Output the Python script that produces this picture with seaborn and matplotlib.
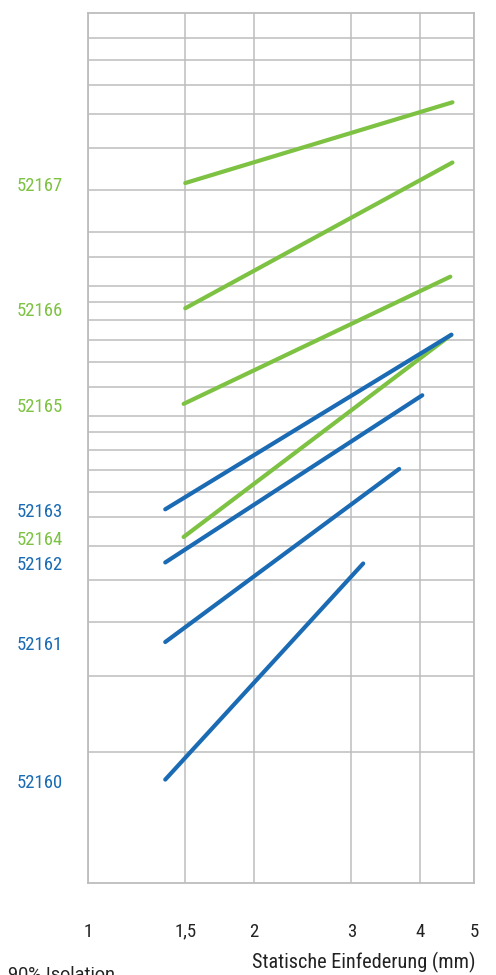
import matplotlib
matplotlib.use("Agg")
import matplotlib.pyplot as plt
import matplotlib.transforms as mtransforms
import matplotlib.ticker as mticker
import seaborn as sns
import pandas as pd

# Product series: static deflection (mm) at start/end and load at start/end
products = ["52167", "52166", "52165", "52164", "52163", "52162", "52161", "52160"]
x_start = [1.50, 1.50, 1.49, 1.49, 1.38, 1.38, 1.38, 1.38]
x_end = [4.57, 4.57, 4.53, 4.55, 4.55, 4.03, 3.66, 3.15]
load_start = [41.5, 21.3, 12.8, 6.3, 7.3, 5.5, 3.6, 1.73]
load_end = [63.8, 46.3, 25.2, 18.5, 18.5, 13.4, 9.05, 5.47]
series_colour = ["green", "green", "green", "green", "blue", "blue", "blue", "blue"]

# Axis ticks and grid
x_ticks = [1, 1.5, 2, 3, 4, 5]
x_tick_labels = ["1", "1,5", "2", "3", "4", "5"]
load_grid = [2, 3, 4, 5, 6, 7, 8, 9, 10, 11, 12, 14, 16, 18, 20, 22, 24, 28, 32,
             40, 50, 60, 70, 80, 90]

GREEN = "#7DC242"
BLUE = "#1A6BB4"
GRID = "#BDBDBD"
TEXT = "#222222"
palette = {"green": GREEN, "blue": BLUE}

rows = []
for p, xs, xe, ys, ye, c in zip(products, x_start, x_end, load_start, load_end, series_colour):
    rows.append({"product": p, "x": xs, "y": ys, "colour": c})
    rows.append({"product": p, "x": xe, "y": ye, "colour": c})
df = pd.DataFrame(rows)

sns.set_style("white")
narrow = ["Roboto Condensed", "DejaVu Sans"]

fig = plt.figure(figsize=(4.96, 9.75), dpi=100)
ax = fig.add_axes([88 / 496, (975 - 882.5) / 975, 386 / 496, 869.2 / 975])

ax.set_xscale("log")
ax.set_yscale("log")
ax.set_xlim(1, 5)
ax.set_ylim(1, 102.5)

# grid
ax.set_xticks(x_ticks)
ax.set_xticklabels(x_tick_labels, family=narrow, fontsize=13.5, color=TEXT)
ax.xaxis.set_minor_locator(mticker.NullLocator())
ax.set_yticks(load_grid)
ax.set_yticklabels([])
ax.yaxis.set_minor_locator(mticker.NullLocator())
ax.tick_params(axis="both", length=0)
ax.tick_params(axis="x", pad=29)
ax.grid(True, color=GRID, linewidth=1.1)
ax.set_axisbelow(True)
for s in ax.spines.values():
    s.set_color(GRID)
    s.set_linewidth(1.3)

for p in products:
    sub = df[df["product"] == p]
    sns.lineplot(data=sub, x="x", y="y", color=palette[sub["colour"].iloc[0]],
                 linewidth=3.0, solid_capstyle="round", legend=False, ax=ax,
                 sort=False)

ax.set_xlabel("")
ax.set_ylabel("")

# product labels on the left, at the load where each series starts
trans = mtransforms.blended_transform_factory(fig.transFigure, ax.transData)
offset = mtransforms.ScaledTranslation(0, -3 / 100, fig.dpi_scale_trans)
for p, ys, c in zip(products, load_start, series_colour):
    ax.text(17 / 496, ys, p, transform=trans + offset, ha="left", va="center",
            family=narrow, fontsize=13.5, color=palette[c], clip_on=False)

fig.text(476 / 496, 1 - 962 / 975, "Statische Einfederung (mm)", ha="right",
         va="center", family=narrow, fontsize=14.6, color=TEXT)
fig.text(8 / 496, 1 - 966 / 975, "90% Isolation", ha="left", va="top",
         family=["Roboto", "DejaVu Sans"], fontsize=13, color=TEXT)

fig.savefig("out.png", dpi=100)
